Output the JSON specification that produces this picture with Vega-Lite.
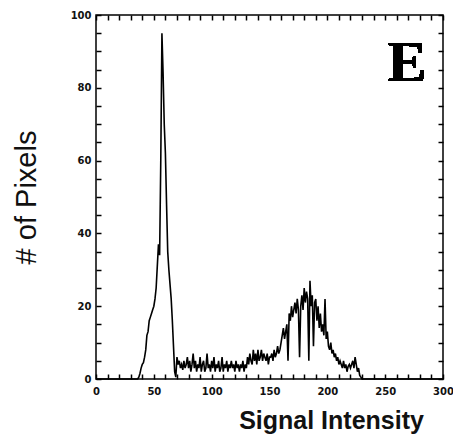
{
  "$schema": "https://vega.github.io/schema/vega-lite/v6.json",
  "autosize": {"type": "none"},
  "padding": {"left": 96, "top": 15, "right": 10, "bottom": 56},
  "width": 347,
  "height": 364,
  "config": {
    "view": {"stroke": "black", "strokeWidth": 1.5}
  },
  "datasets": {
    "hist": [
      {"intensity": 0, "pixels": 0},
      {"intensity": 36, "pixels": 0},
      {"intensity": 37, "pixels": 0.5},
      {"intensity": 38, "pixels": 1.5},
      {"intensity": 39, "pixels": 3},
      {"intensity": 40, "pixels": 4},
      {"intensity": 41, "pixels": 4.5},
      {"intensity": 42, "pixels": 6},
      {"intensity": 43, "pixels": 8},
      {"intensity": 44, "pixels": 12},
      {"intensity": 45, "pixels": 13},
      {"intensity": 46, "pixels": 16},
      {"intensity": 47, "pixels": 17},
      {"intensity": 48, "pixels": 18},
      {"intensity": 49, "pixels": 19},
      {"intensity": 50, "pixels": 20},
      {"intensity": 51, "pixels": 22},
      {"intensity": 52, "pixels": 25},
      {"intensity": 53, "pixels": 31},
      {"intensity": 54, "pixels": 37},
      {"intensity": 55, "pixels": 34},
      {"intensity": 56, "pixels": 60},
      {"intensity": 57, "pixels": 95},
      {"intensity": 58, "pixels": 84},
      {"intensity": 59, "pixels": 70},
      {"intensity": 60, "pixels": 62},
      {"intensity": 61, "pixels": 48},
      {"intensity": 62, "pixels": 35},
      {"intensity": 63, "pixels": 30},
      {"intensity": 64, "pixels": 26},
      {"intensity": 65, "pixels": 22},
      {"intensity": 66, "pixels": 16},
      {"intensity": 67, "pixels": 9},
      {"intensity": 68, "pixels": 2},
      {"intensity": 69, "pixels": 0.5},
      {"intensity": 70, "pixels": 6},
      {"intensity": 71, "pixels": 4},
      {"intensity": 72, "pixels": 5},
      {"intensity": 73, "pixels": 3},
      {"intensity": 74, "pixels": 4},
      {"intensity": 75, "pixels": 2.5},
      {"intensity": 76, "pixels": 5},
      {"intensity": 77, "pixels": 3},
      {"intensity": 78, "pixels": 4},
      {"intensity": 79, "pixels": 6},
      {"intensity": 80, "pixels": 3},
      {"intensity": 81, "pixels": 5},
      {"intensity": 82, "pixels": 2},
      {"intensity": 83, "pixels": 4},
      {"intensity": 84, "pixels": 7},
      {"intensity": 85, "pixels": 3},
      {"intensity": 86, "pixels": 5},
      {"intensity": 87, "pixels": 2},
      {"intensity": 88, "pixels": 4},
      {"intensity": 89, "pixels": 3},
      {"intensity": 90, "pixels": 6},
      {"intensity": 91, "pixels": 2},
      {"intensity": 92, "pixels": 4},
      {"intensity": 93, "pixels": 5},
      {"intensity": 94, "pixels": 2},
      {"intensity": 95, "pixels": 3},
      {"intensity": 96, "pixels": 7},
      {"intensity": 97, "pixels": 3},
      {"intensity": 98, "pixels": 4},
      {"intensity": 99, "pixels": 2},
      {"intensity": 100, "pixels": 5},
      {"intensity": 101, "pixels": 3},
      {"intensity": 102, "pixels": 6},
      {"intensity": 103, "pixels": 2},
      {"intensity": 104, "pixels": 4},
      {"intensity": 105, "pixels": 3},
      {"intensity": 106, "pixels": 5},
      {"intensity": 107, "pixels": 2},
      {"intensity": 108, "pixels": 3},
      {"intensity": 109, "pixels": 6},
      {"intensity": 110, "pixels": 2},
      {"intensity": 111, "pixels": 4},
      {"intensity": 112, "pixels": 3},
      {"intensity": 113, "pixels": 5},
      {"intensity": 114, "pixels": 2},
      {"intensity": 115, "pixels": 4},
      {"intensity": 116, "pixels": 3},
      {"intensity": 117, "pixels": 5},
      {"intensity": 118, "pixels": 3},
      {"intensity": 119, "pixels": 4},
      {"intensity": 120, "pixels": 2},
      {"intensity": 121, "pixels": 5},
      {"intensity": 122, "pixels": 3},
      {"intensity": 123, "pixels": 4},
      {"intensity": 124, "pixels": 2},
      {"intensity": 125, "pixels": 4},
      {"intensity": 126, "pixels": 3},
      {"intensity": 127, "pixels": 5},
      {"intensity": 128, "pixels": 2},
      {"intensity": 129, "pixels": 4},
      {"intensity": 130, "pixels": 3},
      {"intensity": 131, "pixels": 6},
      {"intensity": 132, "pixels": 4},
      {"intensity": 133, "pixels": 7},
      {"intensity": 134, "pixels": 5},
      {"intensity": 135, "pixels": 4},
      {"intensity": 136, "pixels": 8},
      {"intensity": 137, "pixels": 5},
      {"intensity": 138, "pixels": 7},
      {"intensity": 139, "pixels": 4},
      {"intensity": 140, "pixels": 8},
      {"intensity": 141, "pixels": 5},
      {"intensity": 142, "pixels": 6},
      {"intensity": 143, "pixels": 8},
      {"intensity": 144, "pixels": 5},
      {"intensity": 145, "pixels": 7},
      {"intensity": 146, "pixels": 6},
      {"intensity": 147, "pixels": 5},
      {"intensity": 148, "pixels": 7},
      {"intensity": 149, "pixels": 4},
      {"intensity": 150, "pixels": 6},
      {"intensity": 151, "pixels": 6},
      {"intensity": 152, "pixels": 7},
      {"intensity": 153, "pixels": 5},
      {"intensity": 154, "pixels": 8},
      {"intensity": 155, "pixels": 6},
      {"intensity": 156, "pixels": 7},
      {"intensity": 157, "pixels": 9},
      {"intensity": 158, "pixels": 7},
      {"intensity": 159, "pixels": 8},
      {"intensity": 160, "pixels": 10},
      {"intensity": 161, "pixels": 12},
      {"intensity": 162, "pixels": 14},
      {"intensity": 163, "pixels": 11},
      {"intensity": 164, "pixels": 13},
      {"intensity": 165, "pixels": 15},
      {"intensity": 166, "pixels": 5},
      {"intensity": 167, "pixels": 18},
      {"intensity": 168, "pixels": 16},
      {"intensity": 169, "pixels": 20},
      {"intensity": 170, "pixels": 17},
      {"intensity": 171, "pixels": 19},
      {"intensity": 172, "pixels": 21},
      {"intensity": 173, "pixels": 18},
      {"intensity": 174, "pixels": 22},
      {"intensity": 175, "pixels": 19},
      {"intensity": 176, "pixels": 6},
      {"intensity": 177, "pixels": 20},
      {"intensity": 178, "pixels": 23},
      {"intensity": 179, "pixels": 19},
      {"intensity": 180, "pixels": 25},
      {"intensity": 181, "pixels": 21},
      {"intensity": 182, "pixels": 24},
      {"intensity": 183, "pixels": 22},
      {"intensity": 184, "pixels": 5},
      {"intensity": 185, "pixels": 27},
      {"intensity": 186, "pixels": 20},
      {"intensity": 187, "pixels": 23},
      {"intensity": 188, "pixels": 9},
      {"intensity": 189, "pixels": 21},
      {"intensity": 190, "pixels": 22},
      {"intensity": 191, "pixels": 16},
      {"intensity": 192, "pixels": 20},
      {"intensity": 193, "pixels": 14},
      {"intensity": 194, "pixels": 18},
      {"intensity": 195, "pixels": 13},
      {"intensity": 196, "pixels": 15},
      {"intensity": 197, "pixels": 12},
      {"intensity": 198, "pixels": 22},
      {"intensity": 199, "pixels": 11},
      {"intensity": 200, "pixels": 13},
      {"intensity": 201, "pixels": 9},
      {"intensity": 202, "pixels": 8},
      {"intensity": 203, "pixels": 10},
      {"intensity": 204, "pixels": 7},
      {"intensity": 205, "pixels": 8},
      {"intensity": 206, "pixels": 6},
      {"intensity": 207, "pixels": 7},
      {"intensity": 208, "pixels": 5},
      {"intensity": 209, "pixels": 6},
      {"intensity": 210, "pixels": 4},
      {"intensity": 211, "pixels": 5},
      {"intensity": 212, "pixels": 4},
      {"intensity": 213, "pixels": 3},
      {"intensity": 214, "pixels": 5},
      {"intensity": 215, "pixels": 3},
      {"intensity": 216, "pixels": 4},
      {"intensity": 217, "pixels": 2},
      {"intensity": 218, "pixels": 3.5},
      {"intensity": 219, "pixels": 4},
      {"intensity": 220, "pixels": 3},
      {"intensity": 221, "pixels": 4},
      {"intensity": 222, "pixels": 5},
      {"intensity": 223, "pixels": 3},
      {"intensity": 224, "pixels": 6},
      {"intensity": 225, "pixels": 4},
      {"intensity": 226, "pixels": 2},
      {"intensity": 227, "pixels": 3},
      {"intensity": 228, "pixels": 1},
      {"intensity": 229, "pixels": 0.5},
      {"intensity": 230, "pixels": 0},
      {"intensity": 300, "pixels": 0}
    ]
  },
  "data": {"name": "hist"},
  "layer": [
    {
      "mark": {"type": "line", "color": "black", "strokeWidth": 1.6, "interpolate": "linear"},
      "encoding": {
        "x": {
          "field": "intensity", "type": "quantitative",
          "scale": {"domain": [0, 300], "nice": false, "zero": true},
          "axis": {
            "orient": "bottom",
            "values": [0,10,20,30,40,50,60,70,80,90,100,110,120,130,140,150,160,170,180,190,200,210,220,230,240,250,260,270,280,290,300],
            "labelExpr": "datum.value % 50 === 0 ? datum.label : ''",
            "gridOpacity": 0,
            "domainOpacity": 0,
            "tickColor": "black",
            "tickWidth": 1.5,
            "tickSize": 5,
            "offset": -5,
            "labelPadding": 7,
            "labelColor": "#111",
            "labelFont": "DejaVu Sans",
            "labelFontWeight": "bold",
            "labelFontSize": 10,
            "labelFlush": false,
            "title": "Signal Intensity",
            "titleColor": "#111",
            "titleFont": "Liberation Sans",
            "titleFontWeight": "bold",
            "titleFontSize": 25,
            "titleAlign": "center",
            "titleBaseline": "alphabetic",
            "titleX": 235,
            "titleY": 54
          }
        },
        "y": {
          "field": "pixels", "type": "quantitative",
          "scale": {"domain": [0, 100], "nice": false},
          "axis": {
            "orient": "left",
            "values": [0,5,10,15,20,25,30,35,40,45,50,55,60,65,70,75,80,85,90,95,100],
            "labelExpr": "datum.value % 20 === 0 ? datum.label : ''",
            "gridOpacity": 0,
            "domainOpacity": 0,
            "tickColor": "black",
            "tickWidth": 1.5,
            "tickSize": 5,
            "offset": -5,
            "labelPadding": 5,
            "labelColor": "#111",
            "labelFont": "DejaVu Sans",
            "labelFontWeight": "bold",
            "labelFontSize": 10,
            "title": "# of Pixels",
            "titleColor": "#111",
            "titleFont": "Liberation Sans",
            "titleFontWeight": "normal",
            "titleFontSize": 29,
            "titleAngle": -90,
            "titleAlign": "center",
            "titleBaseline": "middle",
            "titleX": -75,
            "titleY": 182
          }
        }
      }
    },
    {
      "mark": {"type": "line", "color": "black", "strokeWidth": 1.2, "opacity": 0},
      "encoding": {
        "x": {
          "field": "intensity", "type": "quantitative",
          "axis": {
            "orient": "top",
            "values": [0,10,20,30,40,50,60,70,80,90,100,110,120,130,140,150,160,170,180,190,200,210,220,230,240,250,260,270,280,290,300],
            "labels": false,
            "gridOpacity": 0,
            "domainOpacity": 0,
            "tickColor": "black",
            "tickWidth": 1.5,
            "tickSize": 5,
            "offset": -5,
            "title": null
          }
        },
        "y": {
          "field": "pixels", "type": "quantitative",
          "axis": {
            "orient": "right",
            "values": [0,5,10,15,20,25,30,35,40,45,50,55,60,65,70,75,80,85,90,95,100],
            "labels": false,
            "gridOpacity": 0,
            "domainOpacity": 0,
            "tickColor": "black",
            "tickWidth": 1.5,
            "tickSize": 5,
            "offset": -5,
            "title": null
          }
        }
      }
    },
    {
      "mark": {"type": "text", "text": "E", "font": "Liberation Serif", "fontWeight": "bold", "fontSize": 58, "align": "center", "baseline": "alphabetic", "color": "black"},
      "encoding": {
        "x": {"datum": 269, "type": "quantitative", "axis": null},
        "y": {"datum": 82, "type": "quantitative", "axis": null}
      }
    }
  ],
  "resolve": {"axis": {"x": "independent", "y": "independent"}}
}
